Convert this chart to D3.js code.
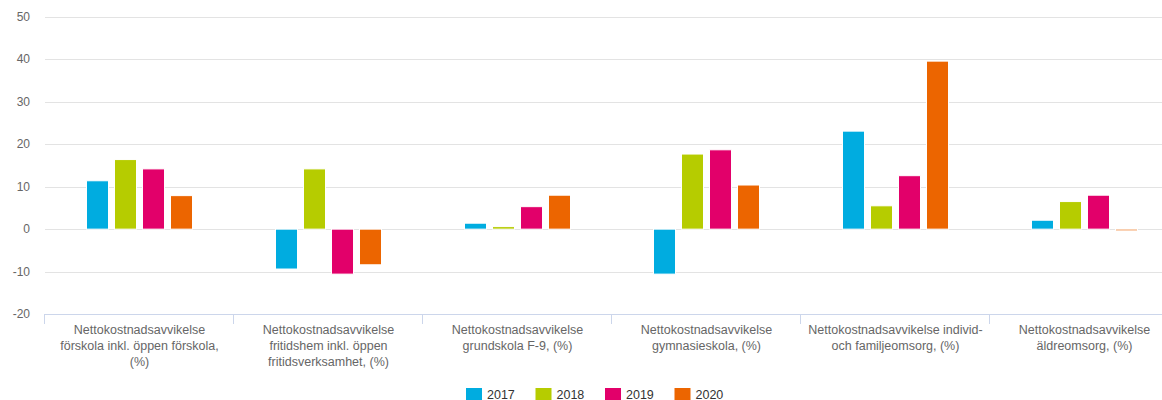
<!DOCTYPE html>
<html>
<head>
<meta charset="utf-8">
<script src="https://cdn.jsdelivr.net/npm/d3@7.9.0/dist/d3.min.js"></script>
<style>
  body { margin: 0; background: #fff; }
  svg { display: block; font-family: "Liberation Sans", Arial, sans-serif; }
</style>
</head>
<body>
<div id="chart"></div>
<script>
// category labels, split into the lines the chart shows
const categories = [
  'Nettokostnadsavvikelse|förskola inkl. öppen förskola,|(%)',
  'Nettokostnadsavvikelse|fritidshem inkl. öppen|fritidsverksamhet, (%)',
  'Nettokostnadsavvikelse|grundskola F-9, (%)',
  'Nettokostnadsavvikelse|gymnasieskola, (%)',
  'Nettokostnadsavvikelse individ-|och familjeomsorg, (%)',
  'Nettokostnadsavvikelse|äldreomsorg, (%)'
];
const years = ['2017', '2018', '2019', '2020'];
const colors = ['#00ace0', '#b6cc00', '#e2006a', '#ec6500'];

const v2017 = [11.4, -9.4, 1.4, -10.6, 23.1, 2.1];
const v2018 = [16.4, 14.2, 0.6, 17.7, 5.5, 6.5];
const v2019 = [14.2, -10.6, 5.3, 18.7, 12.6, 8.0];
const v2020 = [7.9, -8.4, 8.0, 10.4, 39.6, -0.4];
const series = [v2017, v2018, v2019, v2020];

const yTicks = [-20, -10, 0, 10, 20, 30, 40, 50];

const width = 1162, height = 400;
const plot = { left: 45, right: 1179, top: 17, bottom: 314 };

const svg = d3.select('#chart').append('svg')
  .attr('width', width)
  .attr('height', height);

const x0 = d3.scaleBand().domain(categories).range([plot.left, plot.right]);
const x1 = d3.scaleBand().domain(years)
  .range([(x0.bandwidth() - 112) / 2, (x0.bandwidth() + 112) / 2])
  .paddingInner(6 / 28).paddingOuter(3 / 28);
const y = d3.scaleLinear().domain([-20, 50]).range([plot.bottom, plot.top]);

// gridlines
svg.append('g')
  .selectAll('line')
  .data(yTicks.filter(d => d !== -20))
  .join('line')
  .attr('x1', plot.left).attr('x2', width)
  .attr('y1', d => Math.round(y(d)) + 0.5).attr('y2', d => Math.round(y(d)) + 0.5)
  .attr('stroke', '#e3e3e3');

// y labels
svg.append('g')
  .selectAll('text')
  .data(yTicks)
  .join('text')
  .attr('x', 30)
  .attr('y', d => y(d) + 4)
  .attr('text-anchor', 'end')
  .attr('font-size', 12)
  .attr('fill', '#666')
  .text(d => d);

// bottom axis
const xAxis = svg.append('g');
xAxis.append('line')
  .attr('x1', plot.left).attr('x2', width)
  .attr('y1', plot.bottom + 0.5).attr('y2', plot.bottom + 0.5)
  .attr('stroke', '#ccd6eb');
xAxis.selectAll('.tick')
  .data(categories.map(c => x0(c)).concat([plot.right]))
  .join('line')
  .attr('x1', d => Math.round(d) - 0.5).attr('x2', d => Math.round(d) - 0.5)
  .attr('y1', plot.bottom).attr('y2', plot.bottom + 10)
  .attr('stroke', '#ccd6eb');

const labels = xAxis.selectAll('.lbl')
  .data(categories)
  .join('text')
  .attr('x', d => x0(d) + x0.bandwidth() / 2)
  .attr('y', 334)
  .attr('text-anchor', 'middle')
  .attr('font-size', 12.5)
  .attr('fill', '#666');
labels.selectAll('tspan')
  .data(d => d.split('|').map(s => ({ s, x: x0(d) + x0.bandwidth() / 2 })))
  .join('tspan')
  .attr('x', d => d.x)
  .attr('dy', (d, i) => i ? 16 : 0)
  .text(d => d.s);

// bars
const groups = svg.append('g')
  .selectAll('g')
  .data(categories)
  .join('g')
  .attr('transform', d => `translate(${x0(d)},0)`);

groups.selectAll('rect')
  .data((d, i) => years.map((yr, j) => ({ yr, j, value: series[j][i] })))
  .join('rect')
  .attr('x', d => x1(d.yr))
  .attr('width', x1.bandwidth())
  .attr('y', d => y(Math.max(0, d.value)))
  .attr('height', d => Math.abs(y(d.value) - y(0)))
  .attr('fill', d => colors[d.j])
  .attr('stroke', '#fff')
  .attr('stroke-width', 1);

// legend
const legend = svg.append('g').attr('transform', 'translate(466,388)');
const item = legend.selectAll('g')
  .data(years)
  .join('g')
  .attr('transform', (d, i) => `translate(${i * 69.5},0)`);
item.append('rect')
  .attr('width', 16).attr('height', 16)
  .attr('fill', (d, i) => colors[i]);
item.append('text')
  .attr('x', 21).attr('y', 10.5)
  .attr('font-size', 12.5)
  .attr('fill', '#333')
  .text(d => d);
</script>
</body>
</html>
